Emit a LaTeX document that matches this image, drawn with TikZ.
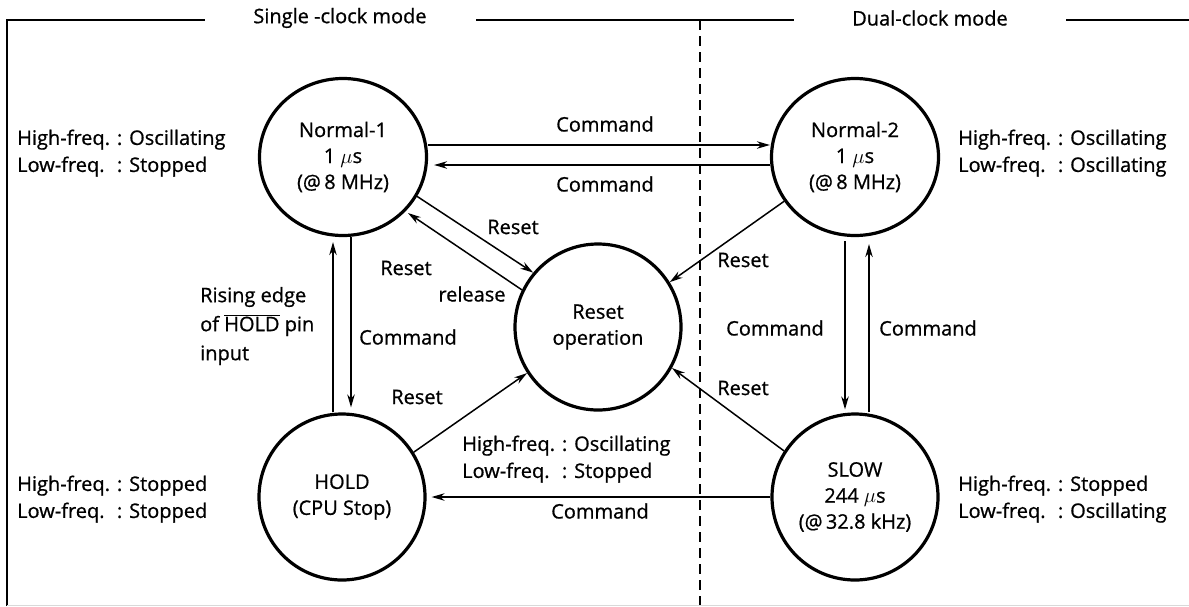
\documentclass[tikz,border=0pt]{standalone}
\usepackage{fontspec}
\setmainfont{Open Sans}[FakeBold=0.8]
\usetikzlibrary{arrows.meta,shapes.geometric}
\tikzset{
  state/.style={circle, draw, line width=3.2pt, minimum size=166pt, inner sep=0pt, align=center, font=\fontsize{20}{26}\selectfont},
  wstate/.style={state, ellipse, minimum width=167pt, minimum height=157pt},
  arr/.style={-{Stealth[length=13pt,width=7.5pt]}, line width=1.5pt},
  lbl/.style={inner sep=0pt, font=\fontsize{20}{26}\selectfont},
  info/.style={inner sep=0pt, anchor=west, font=\fontsize{20}{27}\selectfont},
  frame/.style={line width=2pt},
  divider/.style={line width=1.6pt, dash pattern=on 10pt off 6pt},
}
\newcommand{\freqs}[2]{\begin{tabular}{@{}l@{ }l@{}}High-freq. & : #1\\ Low-freq. & : #2\end{tabular}}
\begin{document}
\begin{tikzpicture}[x=1pt,y=-1pt]
\useasboundingbox (0,0) rectangle (1189,606);
% frame
\coordinate (fTL) at (7,20);
\coordinate (fBL) at (7,606);
\coordinate (g1a) at (205,20);
\coordinate (g1b) at (476,20);
\coordinate (g2a) at (794,20);
\coordinate (g2b) at (1066,20);
\coordinate (fTR) at (1189,20);
\coordinate (dT) at (700,20);
\coordinate (dB) at (700,606);
\draw[frame] (fBL) -- (fTL) -- (g1a);
\draw[frame] (g1b) -- (g2a);
\draw[frame] (g2b) -- (fTR);
\draw[divider] (dT) -- (dB);
\coordinate (bL) at (7,605);
\coordinate (bR) at (1189,605);
\draw[black!15, line width=1pt] (bL) -- (bR);
\node[lbl] (t1) at (340,18) {Single -clock mode};
\node[lbl] (t2) at (930,18) {Dual-clock mode};
% states
\node[wstate] (N1) at (343,157) {Normal-1\\1 $\mu$s\\(@\,8 MHz)};
\node[wstate] (N2) at (855,157) {Normal-2\\1 $\mu$s\\(@\,8 MHz)};
\node[state] (R) at (598,327) {Reset\\operation};
\node[state] (HOLD) at (342,497) {HOLD\\(CPU Stop)};
\node[state] (SLOW) at (855,497) {SLOW\\244 $\mu$s\\(@\,32.8 kHz)};
% info labels
\node[info] (i1) at (17,153) {\freqs{Oscillating}{Stopped}};
\node[info] (i2) at (958,153) {\freqs{Oscillating}{Oscillating}};
\node[info] (i3) at (17,499) {\freqs{Stopped}{Stopped}};
\node[info] (i4) at (958,499) {\freqs{Stopped}{Oscillating}};
\node[info] (i5) at (462,459) {\freqs{Oscillating}{Stopped}};
\node[info, align=left, font=\fontsize{20}{29}\selectfont] (rise) at (200,326) {Rising edge\\of $\overline{\mbox{HOLD}}$ pin\\input};
% horizontal commands
\draw[arr] ([yshift=12pt]N1.east) -- ([yshift=12pt]N2.west);
\draw[arr, shorten >=6pt] ([yshift=-8pt]N2.west) -- ([yshift=-8pt]N1.east);
\node[lbl] (c1) at (605,124) {Command};
\node[lbl] (c2) at (605,184) {Command};
% N1 <-> HOLD
\draw[arr, shorten >=5pt] ([xshift=-9pt]HOLD.north) -- ([xshift=-9pt]HOLD.north |- N1.south);
\draw[arr, shorten >=5pt] ([xshift=8pt]N1.south) -- ([xshift=8pt]N1.south |- HOLD.north);
\node[lbl] (c3) at (408,337) {Command};
% N2 <-> SLOW
\draw[arr, shorten <=4pt, shorten >=3pt] ([xshift=-10pt]N2.south) -- ([xshift=-10pt]N2.south |- SLOW.north);
\draw[arr, shorten >=7pt] ([xshift=14pt]SLOW.north) -- ([xshift=14pt]SLOW.north |- N2.south);
\node[lbl] (c4) at (775,328) {Command};
\node[lbl] (c5) at (928,328) {Command};
% resets
\draw[arr] (N1.-28) -- (R.140);
\draw[arr, shorten >=3pt] (R.154) -- (N1.-41);
\draw[arr] (N2.212) -- (R.32);
\draw[arr] (HOLD.32) -- (R.213);
\draw[arr] (SLOW.147) -- (R.-29);
\node[lbl] (r1) at (513,227) {Reset};
\node[lbl] (r2) at (406,268) {Reset};
\node[lbl] (r3) at (472,294) {release};
\node[lbl] (r4) at (417,397) {Reset};
\node[lbl] (r5) at (743,260) {Reset};
\node[lbl] (r6) at (743,388) {Reset};
% bottom command
\draw[arr, shorten >=5pt] (SLOW.west) -- (SLOW.west -| HOLD.east);
\node[lbl] (c6) at (600,511) {Command};
\end{tikzpicture}
\end{document}
